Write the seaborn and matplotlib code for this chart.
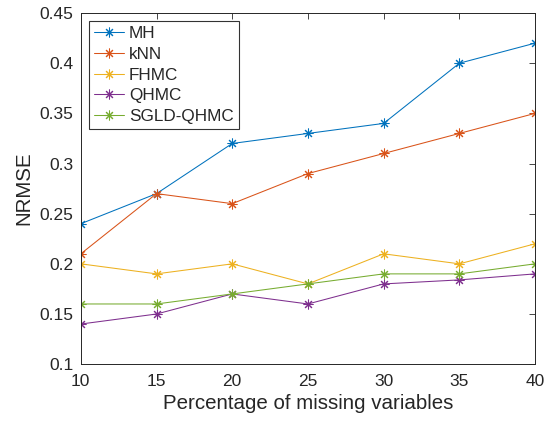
import numpy as np
import pandas as pd
import seaborn as sns
import matplotlib
matplotlib.use("Agg")
import matplotlib.pyplot as plt

missing_pct = [10, 15, 20, 25, 30, 35, 40]
mh = [0.24, 0.27, 0.32, 0.33, 0.34, 0.40, 0.42]
knn = [0.21, 0.27, 0.26, 0.29, 0.31, 0.33, 0.35]
fhmc = [0.20, 0.19, 0.20, 0.18, 0.21, 0.20, 0.22]
qhmc = [0.14, 0.15, 0.17, 0.16, 0.18, 0.184, 0.19]
sgld_qhmc = [0.16, 0.16, 0.17, 0.18, 0.19, 0.19, 0.20]

methods = ["MH", "kNN", "FHMC", "QHMC", "SGLD-QHMC"]
series = [mh, knn, fhmc, qhmc, sgld_qhmc]
colors = ["#0072BD", "#D95319", "#EDB120", "#7E2F8E", "#77AC30"]
yticks = [0.1, 0.15, 0.2, 0.25, 0.3, 0.35, 0.4, 0.45]
ytick_labels = ["0.1", "0.15", "0.2", "0.25", "0.3", "0.35", "0.4", "0.45"]

df = pd.DataFrame({
    "x": np.tile(missing_pct, len(methods)),
    "NRMSE": np.concatenate(series),
    "method": np.repeat(methods, len(missing_pct)),
})

sns.set_style("white")
plt.rcParams["font.family"] = ["Liberation Sans", "DejaVu Sans"]

fig = plt.figure(figsize=(5.46, 4.21), dpi=100)
ax = fig.add_axes([0.148, 0.135, 0.832, 0.834])

sns.lineplot(data=df, x="x", y="NRMSE", hue="method", hue_order=methods,
             palette=colors, linewidth=0.75, ax=ax, legend=False)

for line in ax.lines:
    c = line.get_color()
    line.set_marker((8, 2, 0))
    line.set_markersize(7)
    line.set_markeredgewidth(0.75)
    line.set_markeredgecolor(c)
    line.set_markerfacecolor(c)

ax.set_xlim(10, 40)
ax.set_ylim(0.1, 0.45)
ax.set_xticks(missing_pct)
ax.set_yticks(yticks)
ax.set_yticklabels(ytick_labels)
ax.set_xlabel("Percentage of missing variables", fontsize=14.8, color="#262626", labelpad=4)
ax.set_ylabel("NRMSE", fontsize=14.8, color="#262626", labelpad=4)
ax.tick_params(direction="in", top=True, right=True, length=4, width=0.6,
               labelsize=12.5, colors="#262626", pad=5.5)
ax.tick_params(axis="x", pad=7)
for s in ax.spines.values():
    s.set_color("#262626")
    s.set_linewidth(0.7)

leg = ax.legend(ax.lines[:len(methods)], methods, loc="upper left",
                bbox_to_anchor=(0.0176, 0.977), fontsize=12.3,
                frameon=True, fancybox=False, edgecolor="black",
                handlelength=1.75, handletextpad=0.3, borderpad=0.3, labelspacing=0.33,
                borderaxespad=0.0)
leg.get_frame().set_linewidth(0.8)

fig.savefig("out.png", dpi=100)
